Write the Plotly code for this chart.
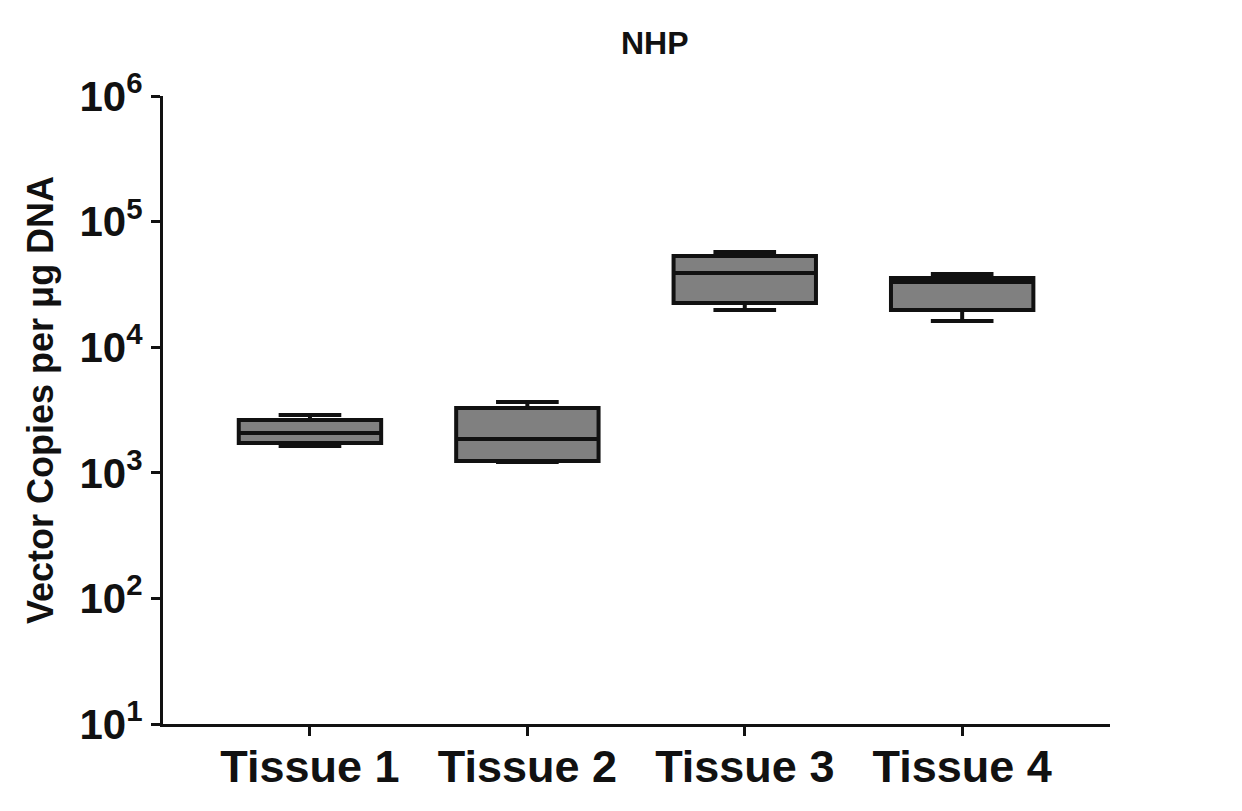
import plotly.graph_objects as go

tissues = ["Tissue 1", "Tissue 2", "Tissue 3", "Tissue 4"]
lower_whisker = [1634, 1219, 19770, 16180]
q1_vals = [1727, 1242, 22490, 19770]
medians = [2075, 1858, 38990, 33040]
q3_vals = [2633, 3281, 53210, 35560]
upper_whisker = [2884, 3664, 57280, 38280]

y_tick_vals = [10, 100, 1000, 10000, 100000, 1000000]
y_tick_text = ["10<sup>1</sup>", "10<sup>2</sup>", "10<sup>3</sup>",
               "10<sup>4</sup>", "10<sup>5</sup>", "10<sup>6</sup>"]

FONT = "Liberation Sans, Arial, Helvetica, sans-serif"

fig = go.Figure()
fig.add_trace(go.Box(
    x=tissues,
    q1=q1_vals,
    median=medians,
    q3=q3_vals,
    lowerfence=lower_whisker,
    upperfence=upper_whisker,
    fillcolor="#808080",
    line=dict(color="#111111", width=4),
    width=0.655,
    whiskerwidth=0.44,
    boxpoints=False,
    showlegend=False,
    hoverinfo="skip",
))

# page body has an 8px margin; figure is sized/margined to compensate
fig.update_layout(
    width=1234, height=803,
    paper_bgcolor="white", plot_bgcolor="white",
    margin=dict(l=155, r=132, t=88, b=87, autoexpand=False),
    font=dict(family=FONT, color="#111111"),
    annotations=[
        dict(text="NHP", xref="paper", yref="paper",
             x=(655 - 163) / 947, y=1 + (96 - 43) / 628,
             showarrow=False, xanchor="center", yanchor="middle",
             font=dict(family=FONT, size=32, color="#111111", weight="bold")),
        dict(text="Vector Copies per \u03bcg DNA", xref="paper", yref="paper",
             x=(40 - 163) / 947, y=1 - (400 - 96) / 628,
             showarrow=False, xanchor="center", yanchor="middle", textangle=-90,
             font=dict(family=FONT, size=36, color="#111111", weight="bold")),
    ],
)

fig.update_xaxes(
    type="category",
    range=[-0.676, 3.68],
    automargin=False,
    showline=True, linecolor="#111111", linewidth=3,
    ticks="outside", ticklen=9, tickwidth=3, tickcolor="#111111",
    ticklabelstandoff=-8,
    showgrid=False, zeroline=False,
    tickfont=dict(family=FONT, size=45, color="#111111", weight="bold"),
)

fig.update_yaxes(
    type="log",
    range=[1, 6],
    automargin=False,
    tickvals=y_tick_vals, ticktext=y_tick_text,
    showline=True, linecolor="#111111", linewidth=3,
    ticks="outside", ticklen=9, tickwidth=3, tickcolor="#111111",
    showgrid=False, zeroline=False,
    tickfont=dict(family=FONT, size=42, color="#111111", weight="bold"),
)

fig.write_html("out.html")
